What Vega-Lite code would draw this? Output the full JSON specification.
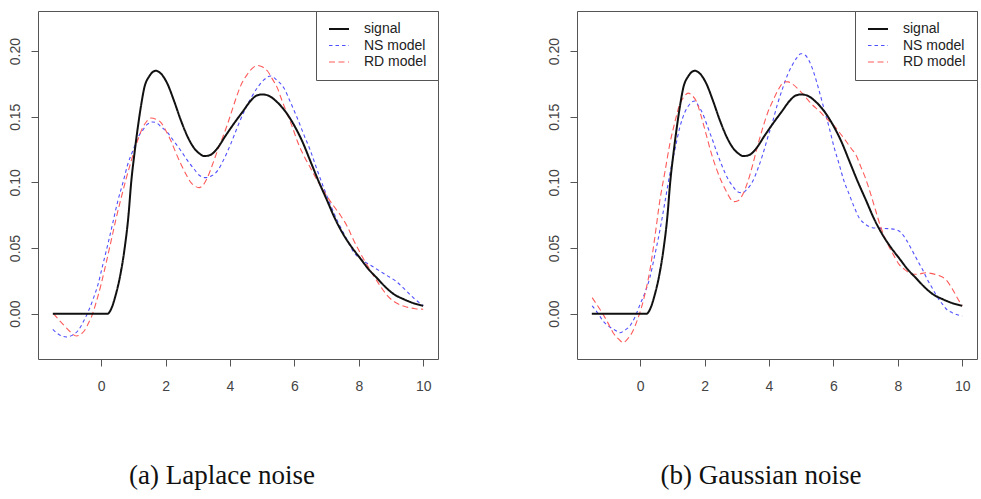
{
  "$schema": "https://vega.github.io/schema/vega-lite/v6.json",
  "padding": {"left": 0, "top": 10, "right": 0, "bottom": 0},
  "autosize": {"type": "pad"},
  "spacing": 100,
  "datasets": {
    "signal": [
      {"x": -1.5, "y": 0, "series": "signal"}, {"x": -1, "y": 0, "series": "signal"}, {"x": -0.5, "y": 0, "series": "signal"}, {"x": 0, "y": 0, "series": "signal"}, {"x": 0.2, "y": 0, "series": "signal"},
      {"x": 0.3, "y": 0.003, "series": "signal"}, {"x": 0.45, "y": 0.014, "series": "signal"}, {"x": 0.6, "y": 0.03, "series": "signal"}, {"x": 0.72, "y": 0.048, "series": "signal"}, {"x": 0.85, "y": 0.075, "series": "signal"},
      {"x": 0.93, "y": 0.099, "series": "signal"}, {"x": 1.05, "y": 0.125, "series": "signal"}, {"x": 1.14, "y": 0.142, "series": "signal"}, {"x": 1.25, "y": 0.16, "series": "signal"}, {"x": 1.34, "y": 0.172, "series": "signal"},
      {"x": 1.5, "y": 0.181, "series": "signal"}, {"x": 1.7, "y": 0.185, "series": "signal"}, {"x": 1.85, "y": 0.183, "series": "signal"}, {"x": 2.06, "y": 0.175, "series": "signal"}, {"x": 2.25, "y": 0.163, "series": "signal"},
      {"x": 2.48, "y": 0.147, "series": "signal"}, {"x": 2.7, "y": 0.134, "series": "signal"}, {"x": 2.89, "y": 0.126, "series": "signal"}, {"x": 3.05, "y": 0.122, "series": "signal"}, {"x": 3.2, "y": 0.12, "series": "signal"},
      {"x": 3.4, "y": 0.121, "series": "signal"}, {"x": 3.61, "y": 0.126, "series": "signal"}, {"x": 3.85, "y": 0.135, "series": "signal"}, {"x": 4.13, "y": 0.145, "series": "signal"}, {"x": 4.4, "y": 0.154, "series": "signal"},
      {"x": 4.64, "y": 0.162, "series": "signal"}, {"x": 4.82, "y": 0.166, "series": "signal"}, {"x": 5.0, "y": 0.167, "series": "signal"}, {"x": 5.2, "y": 0.166, "series": "signal"}, {"x": 5.47, "y": 0.161, "series": "signal"},
      {"x": 5.75, "y": 0.153, "series": "signal"}, {"x": 5.98, "y": 0.144, "series": "signal"}, {"x": 6.25, "y": 0.131, "series": "signal"}, {"x": 6.5, "y": 0.116, "series": "signal"}, {"x": 6.75, "y": 0.101, "series": "signal"},
      {"x": 7.02, "y": 0.086, "series": "signal"}, {"x": 7.25, "y": 0.073, "series": "signal"}, {"x": 7.53, "y": 0.06, "series": "signal"}, {"x": 7.8, "y": 0.05, "series": "signal"}, {"x": 8.05, "y": 0.042, "series": "signal"},
      {"x": 8.3, "y": 0.034, "series": "signal"}, {"x": 8.57, "y": 0.027, "series": "signal"}, {"x": 8.8, "y": 0.021, "series": "signal"}, {"x": 9.08, "y": 0.015, "series": "signal"}, {"x": 9.4, "y": 0.011, "series": "signal"},
      {"x": 9.7, "y": 0.008, "series": "signal"}, {"x": 10, "y": 0.006, "series": "signal"}
    ],
    "laplace": [
      {"x": -1.5, "y": -0.012, "series": "NS model"}, {"x": -1.3, "y": -0.016, "series": "NS model"}, {"x": -1.08, "y": -0.0177, "series": "NS model"}, {"x": -0.9, "y": -0.0165, "series": "NS model"}, {"x": -0.72, "y": -0.013, "series": "NS model"},
      {"x": -0.55, "y": -0.006, "series": "NS model"}, {"x": -0.41, "y": 0.001, "series": "NS model"}, {"x": -0.25, "y": 0.011, "series": "NS model"}, {"x": -0.1, "y": 0.022, "series": "NS model"}, {"x": 0.05, "y": 0.037, "series": "NS model"},
      {"x": 0.21, "y": 0.053, "series": "NS model"}, {"x": 0.37, "y": 0.07, "series": "NS model"}, {"x": 0.52, "y": 0.086, "series": "NS model"}, {"x": 0.68, "y": 0.1, "series": "NS model"}, {"x": 0.83, "y": 0.114, "series": "NS model"},
      {"x": 1.0, "y": 0.125, "series": "NS model"}, {"x": 1.14, "y": 0.134, "series": "NS model"}, {"x": 1.3, "y": 0.14, "series": "NS model"}, {"x": 1.44, "y": 0.1443, "series": "NS model"}, {"x": 1.6, "y": 0.146, "series": "NS model"},
      {"x": 1.7, "y": 0.1455, "series": "NS model"}, {"x": 1.88, "y": 0.142, "series": "NS model"}, {"x": 2.06, "y": 0.138, "series": "NS model"}, {"x": 2.27, "y": 0.131, "series": "NS model"}, {"x": 2.48, "y": 0.124, "series": "NS model"},
      {"x": 2.7, "y": 0.116, "series": "NS model"}, {"x": 2.89, "y": 0.11, "series": "NS model"}, {"x": 3.07, "y": 0.105, "series": "NS model"}, {"x": 3.25, "y": 0.1036, "series": "NS model"}, {"x": 3.43, "y": 0.105, "series": "NS model"},
      {"x": 3.61, "y": 0.1087, "series": "NS model"}, {"x": 3.8, "y": 0.117, "series": "NS model"}, {"x": 4.02, "y": 0.129, "series": "NS model"}, {"x": 4.23, "y": 0.142, "series": "NS model"}, {"x": 4.44, "y": 0.154, "series": "NS model"},
      {"x": 4.65, "y": 0.164, "series": "NS model"}, {"x": 4.85, "y": 0.172, "series": "NS model"}, {"x": 5.05, "y": 0.178, "series": "NS model"}, {"x": 5.26, "y": 0.181, "series": "NS model"}, {"x": 5.45, "y": 0.178, "series": "NS model"},
      {"x": 5.67, "y": 0.172, "series": "NS model"}, {"x": 5.88, "y": 0.161, "series": "NS model"}, {"x": 6.09, "y": 0.149, "series": "NS model"}, {"x": 6.3, "y": 0.136, "series": "NS model"}, {"x": 6.5, "y": 0.124, "series": "NS model"},
      {"x": 6.7, "y": 0.11, "series": "NS model"}, {"x": 6.91, "y": 0.096, "series": "NS model"}, {"x": 7.12, "y": 0.083, "series": "NS model"}, {"x": 7.33, "y": 0.071, "series": "NS model"}, {"x": 7.6, "y": 0.058, "series": "NS model"},
      {"x": 7.84, "y": 0.047, "series": "NS model"}, {"x": 8.1, "y": 0.041, "series": "NS model"}, {"x": 8.36, "y": 0.037, "series": "NS model"}, {"x": 8.62, "y": 0.033, "series": "NS model"}, {"x": 8.88, "y": 0.029, "series": "NS model"},
      {"x": 9.14, "y": 0.025, "series": "NS model"}, {"x": 9.39, "y": 0.0195, "series": "NS model"}, {"x": 9.7, "y": 0.012, "series": "NS model"}, {"x": 10.0, "y": 0.006, "series": "NS model"},
      {"x": -1.48, "y": 0.0, "series": "RD model"}, {"x": -1.3, "y": -0.005, "series": "RD model"}, {"x": -1.13, "y": -0.0094, "series": "RD model"}, {"x": -0.95, "y": -0.014, "series": "RD model"}, {"x": -0.77, "y": -0.017, "series": "RD model"},
      {"x": -0.62, "y": -0.0155, "series": "RD model"}, {"x": -0.52, "y": -0.013, "series": "RD model"}, {"x": -0.41, "y": -0.008, "series": "RD model"}, {"x": -0.31, "y": -0.003, "series": "RD model"}, {"x": -0.15, "y": 0.009, "series": "RD model"},
      {"x": 0.0, "y": 0.0224, "series": "RD model"}, {"x": 0.15, "y": 0.038, "series": "RD model"}, {"x": 0.31, "y": 0.0554, "series": "RD model"}, {"x": 0.46, "y": 0.072, "series": "RD model"}, {"x": 0.62, "y": 0.088, "series": "RD model"},
      {"x": 0.78, "y": 0.103, "series": "RD model"}, {"x": 0.93, "y": 0.116, "series": "RD model"}, {"x": 1.08, "y": 0.128, "series": "RD model"}, {"x": 1.24, "y": 0.139, "series": "RD model"}, {"x": 1.4, "y": 0.146, "series": "RD model"},
      {"x": 1.55, "y": 0.149, "series": "RD model"}, {"x": 1.7, "y": 0.148, "series": "RD model"}, {"x": 1.86, "y": 0.1455, "series": "RD model"}, {"x": 2.02, "y": 0.139, "series": "RD model"}, {"x": 2.17, "y": 0.1315, "series": "RD model"},
      {"x": 2.33, "y": 0.122, "series": "RD model"}, {"x": 2.48, "y": 0.1138, "series": "RD model"}, {"x": 2.64, "y": 0.106, "series": "RD model"}, {"x": 2.79, "y": 0.0998, "series": "RD model"}, {"x": 2.92, "y": 0.097, "series": "RD model"},
      {"x": 3.04, "y": 0.096, "series": "RD model"}, {"x": 3.17, "y": 0.098, "series": "RD model"}, {"x": 3.3, "y": 0.1036, "series": "RD model"}, {"x": 3.45, "y": 0.113, "series": "RD model"}, {"x": 3.61, "y": 0.124, "series": "RD model"},
      {"x": 3.77, "y": 0.134, "series": "RD model"}, {"x": 3.92, "y": 0.144, "series": "RD model"}, {"x": 4.08, "y": 0.156, "series": "RD model"}, {"x": 4.23, "y": 0.167, "series": "RD model"}, {"x": 4.38, "y": 0.176, "series": "RD model"},
      {"x": 4.54, "y": 0.1823, "series": "RD model"}, {"x": 4.7, "y": 0.187, "series": "RD model"}, {"x": 4.85, "y": 0.189, "series": "RD model"}, {"x": 5.0, "y": 0.188, "series": "RD model"}, {"x": 5.16, "y": 0.185, "series": "RD model"},
      {"x": 5.31, "y": 0.179, "series": "RD model"}, {"x": 5.47, "y": 0.172, "series": "RD model"}, {"x": 5.62, "y": 0.162, "series": "RD model"}, {"x": 5.78, "y": 0.152, "series": "RD model"}, {"x": 5.94, "y": 0.142, "series": "RD model"},
      {"x": 6.09, "y": 0.1315, "series": "RD model"}, {"x": 6.3, "y": 0.12, "series": "RD model"}, {"x": 6.5, "y": 0.111, "series": "RD model"}, {"x": 6.7, "y": 0.102, "series": "RD model"}, {"x": 6.91, "y": 0.0935, "series": "RD model"},
      {"x": 7.05, "y": 0.088, "series": "RD model"}, {"x": 7.22, "y": 0.082, "series": "RD model"}, {"x": 7.43, "y": 0.075, "series": "RD model"}, {"x": 7.63, "y": 0.067, "series": "RD model"}, {"x": 7.84, "y": 0.056, "series": "RD model"},
      {"x": 8.05, "y": 0.046, "series": "RD model"}, {"x": 8.26, "y": 0.037, "series": "RD model"}, {"x": 8.46, "y": 0.029, "series": "RD model"}, {"x": 8.67, "y": 0.021, "series": "RD model"}, {"x": 8.88, "y": 0.014, "series": "RD model"},
      {"x": 9.08, "y": 0.0095, "series": "RD model"}, {"x": 9.3, "y": 0.0065, "series": "RD model"}, {"x": 9.5, "y": 0.005, "series": "RD model"}, {"x": 9.75, "y": 0.0038, "series": "RD model"}, {"x": 10.0, "y": 0.0034, "series": "RD model"}
    ],
    "gauss": [
      {"x": -1.49, "y": 0.006, "series": "NS model"}, {"x": -1.3, "y": 0.0, "series": "NS model"}, {"x": -1.15, "y": -0.0056, "series": "NS model"}, {"x": -0.95, "y": -0.01, "series": "NS model"}, {"x": -0.73, "y": -0.0132, "series": "NS model"},
      {"x": -0.63, "y": -0.0145, "series": "NS model"}, {"x": -0.47, "y": -0.0125, "series": "NS model"}, {"x": -0.32, "y": -0.0094, "series": "NS model"}, {"x": -0.15, "y": -0.002, "series": "NS model"}, {"x": 0.0, "y": 0.0072, "series": "NS model"},
      {"x": 0.15, "y": 0.016, "series": "NS model"}, {"x": 0.3, "y": 0.0274, "series": "NS model"}, {"x": 0.45, "y": 0.044, "series": "NS model"}, {"x": 0.61, "y": 0.063, "series": "NS model"}, {"x": 0.77, "y": 0.085, "series": "NS model"},
      {"x": 0.92, "y": 0.106, "series": "NS model"}, {"x": 1.08, "y": 0.125, "series": "NS model"}, {"x": 1.23, "y": 0.1417, "series": "NS model"}, {"x": 1.38, "y": 0.153, "series": "NS model"}, {"x": 1.54, "y": 0.1595, "series": "NS model"},
      {"x": 1.69, "y": 0.162, "series": "NS model"}, {"x": 1.82, "y": 0.158, "series": "NS model"}, {"x": 1.95, "y": 0.152, "series": "NS model"}, {"x": 2.1, "y": 0.142, "series": "NS model"}, {"x": 2.26, "y": 0.1315, "series": "NS model"},
      {"x": 2.41, "y": 0.121, "series": "NS model"}, {"x": 2.57, "y": 0.111, "series": "NS model"}, {"x": 2.72, "y": 0.103, "series": "NS model"}, {"x": 2.88, "y": 0.097, "series": "NS model"}, {"x": 3.02, "y": 0.093, "series": "NS model"},
      {"x": 3.17, "y": 0.092, "series": "NS model"}, {"x": 3.33, "y": 0.095, "series": "NS model"}, {"x": 3.5, "y": 0.101, "series": "NS model"}, {"x": 3.65, "y": 0.11, "series": "NS model"}, {"x": 3.81, "y": 0.1214, "series": "NS model"},
      {"x": 3.96, "y": 0.134, "series": "NS model"}, {"x": 4.12, "y": 0.1468, "series": "NS model"}, {"x": 4.27, "y": 0.16, "series": "NS model"}, {"x": 4.43, "y": 0.172, "series": "NS model"}, {"x": 4.58, "y": 0.182, "series": "NS model"},
      {"x": 4.74, "y": 0.19, "series": "NS model"}, {"x": 4.87, "y": 0.195, "series": "NS model"}, {"x": 4.99, "y": 0.198, "series": "NS model"}, {"x": 5.12, "y": 0.197, "series": "NS model"}, {"x": 5.25, "y": 0.1925, "series": "NS model"},
      {"x": 5.4, "y": 0.183, "series": "NS model"}, {"x": 5.56, "y": 0.1696, "series": "NS model"}, {"x": 5.71, "y": 0.156, "series": "NS model"}, {"x": 5.87, "y": 0.1417, "series": "NS model"}, {"x": 6.02, "y": 0.127, "series": "NS model"},
      {"x": 6.18, "y": 0.1138, "series": "NS model"}, {"x": 6.33, "y": 0.101, "series": "NS model"}, {"x": 6.49, "y": 0.091, "series": "NS model"}, {"x": 6.65, "y": 0.081, "series": "NS model"}, {"x": 6.8, "y": 0.073, "series": "NS model"},
      {"x": 7.0, "y": 0.068, "series": "NS model"}, {"x": 7.21, "y": 0.0655, "series": "NS model"}, {"x": 7.47, "y": 0.065, "series": "NS model"}, {"x": 7.73, "y": 0.0647, "series": "NS model"}, {"x": 7.9, "y": 0.0643, "series": "NS model"},
      {"x": 8.09, "y": 0.062, "series": "NS model"}, {"x": 8.27, "y": 0.056, "series": "NS model"}, {"x": 8.45, "y": 0.048, "series": "NS model"}, {"x": 8.6, "y": 0.041, "series": "NS model"}, {"x": 8.76, "y": 0.034, "series": "NS model"},
      {"x": 8.92, "y": 0.026, "series": "NS model"}, {"x": 9.07, "y": 0.0195, "series": "NS model"}, {"x": 9.22, "y": 0.013, "series": "NS model"}, {"x": 9.38, "y": 0.0075, "series": "NS model"}, {"x": 9.53, "y": 0.003, "series": "NS model"},
      {"x": 9.69, "y": 0.0008, "series": "NS model"}, {"x": 9.85, "y": -0.0008, "series": "NS model"}, {"x": 10.0, "y": -0.0018, "series": "NS model"},
      {"x": -1.49, "y": 0.0122, "series": "RD model"}, {"x": -1.32, "y": 0.006, "series": "RD model"}, {"x": -1.15, "y": -0.0005, "series": "RD model"}, {"x": -1.0, "y": -0.007, "series": "RD model"}, {"x": -0.84, "y": -0.0145, "series": "RD model"},
      {"x": -0.68, "y": -0.019, "series": "RD model"}, {"x": -0.53, "y": -0.022, "series": "RD model"}, {"x": -0.38, "y": -0.019, "series": "RD model"}, {"x": -0.22, "y": -0.013, "series": "RD model"}, {"x": -0.09, "y": -0.005, "series": "RD model"},
      {"x": 0.04, "y": 0.0046, "series": "RD model"}, {"x": 0.17, "y": 0.017, "series": "RD model"}, {"x": 0.3, "y": 0.0325, "series": "RD model"}, {"x": 0.45, "y": 0.057, "series": "RD model"}, {"x": 0.61, "y": 0.0858, "series": "RD model"},
      {"x": 0.77, "y": 0.108, "series": "RD model"}, {"x": 0.92, "y": 0.129, "series": "RD model"}, {"x": 1.08, "y": 0.146, "series": "RD model"}, {"x": 1.23, "y": 0.1595, "series": "RD model"}, {"x": 1.36, "y": 0.165, "series": "RD model"},
      {"x": 1.49, "y": 0.168, "series": "RD model"}, {"x": 1.62, "y": 0.166, "series": "RD model"}, {"x": 1.74, "y": 0.162, "series": "RD model"}, {"x": 1.9, "y": 0.15, "series": "RD model"}, {"x": 2.05, "y": 0.1366, "series": "RD model"},
      {"x": 2.2, "y": 0.123, "series": "RD model"}, {"x": 2.36, "y": 0.111, "series": "RD model"}, {"x": 2.52, "y": 0.101, "series": "RD model"}, {"x": 2.67, "y": 0.0935, "series": "RD model"}, {"x": 2.79, "y": 0.088, "series": "RD model"},
      {"x": 2.9, "y": 0.0853, "series": "RD model"}, {"x": 3.04, "y": 0.086, "series": "RD model"}, {"x": 3.19, "y": 0.091, "series": "RD model"}, {"x": 3.35, "y": 0.101, "series": "RD model"}, {"x": 3.5, "y": 0.1138, "series": "RD model"},
      {"x": 3.65, "y": 0.128, "series": "RD model"}, {"x": 3.81, "y": 0.1417, "series": "RD model"}, {"x": 3.96, "y": 0.153, "series": "RD model"}, {"x": 4.12, "y": 0.162, "series": "RD model"}, {"x": 4.3, "y": 0.171, "series": "RD model"},
      {"x": 4.48, "y": 0.1766, "series": "RD model"}, {"x": 4.6, "y": 0.1765, "series": "RD model"}, {"x": 4.74, "y": 0.1747, "series": "RD model"}, {"x": 4.95, "y": 0.17, "series": "RD model"}, {"x": 5.15, "y": 0.1645, "series": "RD model"},
      {"x": 5.35, "y": 0.159, "series": "RD model"}, {"x": 5.56, "y": 0.1544, "series": "RD model"}, {"x": 5.77, "y": 0.149, "series": "RD model"}, {"x": 5.98, "y": 0.1442, "series": "RD model"}, {"x": 6.19, "y": 0.138, "series": "RD model"},
      {"x": 6.39, "y": 0.1315, "series": "RD model"}, {"x": 6.55, "y": 0.126, "series": "RD model"}, {"x": 6.7, "y": 0.121, "series": "RD model"}, {"x": 6.85, "y": 0.112, "series": "RD model"}, {"x": 7.0, "y": 0.103, "series": "RD model"},
      {"x": 7.16, "y": 0.091, "series": "RD model"}, {"x": 7.32, "y": 0.078, "series": "RD model"}, {"x": 7.47, "y": 0.066, "series": "RD model"}, {"x": 7.63, "y": 0.056, "series": "RD model"}, {"x": 7.84, "y": 0.046, "series": "RD model"},
      {"x": 8.04, "y": 0.0376, "series": "RD model"}, {"x": 8.25, "y": 0.033, "series": "RD model"}, {"x": 8.45, "y": 0.03, "series": "RD model"}, {"x": 8.66, "y": 0.0302, "series": "RD model"}, {"x": 8.87, "y": 0.0312, "series": "RD model"},
      {"x": 9.07, "y": 0.0305, "series": "RD model"}, {"x": 9.28, "y": 0.029, "series": "RD model"}, {"x": 9.49, "y": 0.026, "series": "RD model"}, {"x": 9.69, "y": 0.019, "series": "RD model"}, {"x": 9.85, "y": 0.012, "series": "RD model"},
      {"x": 10.0, "y": 0.006, "series": "RD model"}
    ]
  },
  "hconcat": [
    {
      "width": 400,
      "height": 348,
      "title": {"text": "(a) Laplace noise"},
      "encoding": {
        "x": {"field": "x", "type": "quantitative", "scale": {"domain": [-1.96, 10.46], "nice": false, "zero": false}, "axis": {"values": [0, 2, 4, 6, 8, 10], "title": null, "labelPadding": 13}},
        "y": {"field": "y", "type": "quantitative", "scale": {"domain": [-0.0345, 0.2305], "nice": false, "zero": false}, "axis": {"values": [0, 0.05, 0.1, 0.15, 0.2], "format": ".2f", "title": null, "labelAngle": -90, "labelAlign": "center", "labelBaseline": "alphabetic", "labelPadding": 12, "minExtent": 37, "maxExtent": 37}},
        "color": {"field": "series", "type": "nominal", "scale": {"domain": ["signal", "NS model", "RD model"], "range": ["#111111", "#5050ff", "#ff5a5a"]}, "legend": {"title": null, "encode": {"symbols": {"update": {"strokeWidth": {"signal": "datum.value === 'signal' ? 2 : 1.1"}}}}}},
        "strokeDash": {"field": "series", "type": "nominal", "scale": {"domain": ["signal", "NS model", "RD model"], "range": [[1, 0], [3.5, 3], [6, 3.5]]}, "legend": {"title": null}}
      },
      "layer": [
        {"data": {"name": "laplace"}, "mark": {"type": "line", "interpolate": "monotone", "clip": true, "strokeWidth": 1.1}},
        {"data": {"name": "signal"}, "mark": {"type": "line", "interpolate": "monotone", "clip": true, "strokeWidth": 2}}
      ]
    },
    {
      "width": 400,
      "height": 348,
      "title": {"text": "(b) Gaussian noise"},
      "encoding": {
        "x": {"field": "x", "type": "quantitative", "scale": {"domain": [-1.96, 10.46], "nice": false, "zero": false}, "axis": {"values": [0, 2, 4, 6, 8, 10], "title": null, "labelPadding": 13}},
        "y": {"field": "y", "type": "quantitative", "scale": {"domain": [-0.0345, 0.2305], "nice": false, "zero": false}, "axis": {"values": [0, 0.05, 0.1, 0.15, 0.2], "format": ".2f", "title": null, "labelAngle": -90, "labelAlign": "center", "labelBaseline": "alphabetic", "labelPadding": 12, "minExtent": 37, "maxExtent": 37}},
        "color": {"field": "series", "type": "nominal", "scale": {"domain": ["signal", "NS model", "RD model"], "range": ["#111111", "#5050ff", "#ff5a5a"]}, "legend": {"title": null, "encode": {"symbols": {"update": {"strokeWidth": {"signal": "datum.value === 'signal' ? 2 : 1.1"}}}}}},
        "strokeDash": {"field": "series", "type": "nominal", "scale": {"domain": ["signal", "NS model", "RD model"], "range": [[1, 0], [3.5, 3], [6, 3.5]]}, "legend": {"title": null}}
      },
      "layer": [
        {"data": {"name": "gauss"}, "mark": {"type": "line", "interpolate": "monotone", "clip": true, "strokeWidth": 1.1}},
        {"data": {"name": "signal"}, "mark": {"type": "line", "interpolate": "monotone", "clip": true, "strokeWidth": 2}}
      ]
    }
  ],
  "resolve": {
    "scale": {"color": "independent", "strokeDash": "independent"},
    "legend": {"color": "independent", "strokeDash": "independent"}
  },
  "config": {
    "font": "Liberation Sans",
    "view": {"stroke": "#555555", "strokeWidth": 1},
    "axis": {"grid": false, "domain": false, "tickColor": "#555555", "tickSize": 7, "labelColor": "#444444", "labelFont": "Liberation Sans", "labelFontSize": 14},
    "legend": {"orient": "top-right", "offset": 0, "padding": 11, "symbolOffset": 5, "strokeColor": "#555555", "fillColor": "white", "symbolType": "stroke", "symbolSize": 400, "symbolStrokeWidth": 1.1, "rowPadding": 2.5, "labelFontSize": 14, "labelOffset": 18, "labelColor": "#222222", "labelFont": "Liberation Sans", "cornerRadius": 0, "labelLimit": 200},
    "title": {"orient": "bottom", "anchor": "middle", "frame": "group", "font": "Liberation Serif", "fontSize": 27, "fontWeight": "normal", "color": "#111111", "offset": 70, "dx": -16, "baseline": "top"}
  }
}
